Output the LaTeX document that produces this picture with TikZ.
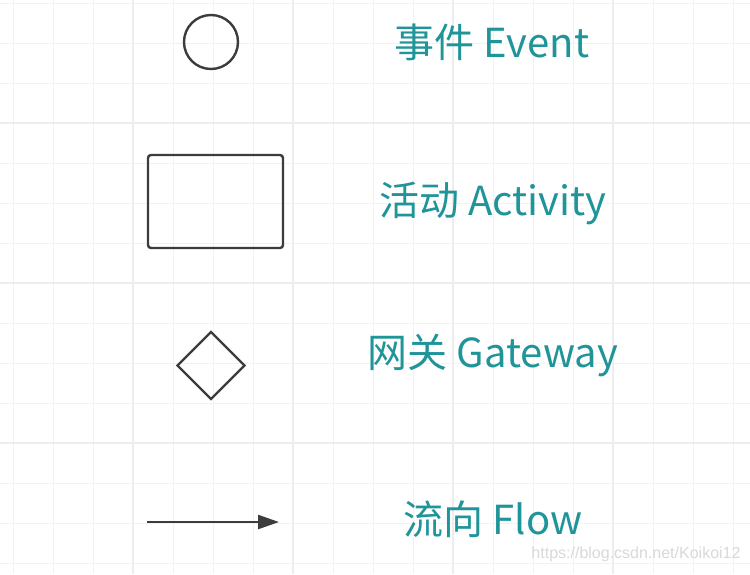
\documentclass[tikz,border=0pt]{standalone}
\usepackage{fontspec}
\setmainfont{Noto Sans CJK SC}
\newfontfamily\markfont{Liberation Sans}
\usetikzlibrary{shapes.geometric,
                arrows.meta,
                positioning}
\definecolor{labelteal}{RGB}{31,148,153}
\definecolor{shapegray}{RGB}{60,60,60}

\begin{document}
\begin{tikzpicture}[x=1pt,y=-1pt,
   minorline/.style={draw=black!5,line width=1pt},
   majorline/.style={draw=black!7,line width=1.5pt},
   symbol/.style={draw=shapegray,line width=2.4pt,inner sep=0pt},
   legend/.style={text=labelteal,font=\fontsize{40}{42}\selectfont,anchor=center},
   watermark/.style={text=black!15,font=\markfont\fontsize{16}{17}\selectfont}]
 \useasboundingbox (0,0) rectangle (750,574);
 \fill[white] (0,0) rectangle (750,574);
 % grid
 \foreach \gx in {13,53,...,733} \draw[minorline] (\gx,0) -- (\gx,574);
 \foreach \gy in {3,43,...,563} \draw[minorline] (0,\gy) -- (750,\gy);
 \foreach \gx in {133,293,453,613} \draw[majorline] (\gx,0) -- (\gx,574);
 \foreach \gy in {123,283,443} \draw[majorline] (0,\gy) -- (750,\gy);
 % symbols
 \node[symbol,circle,minimum size=54pt] (event) at (211,42) {};
 \node[symbol,rounded corners=3pt,minimum width=135pt,minimum height=93pt] (activity) at (215.5,201.5) {};
 \node[symbol,diamond,aspect=1,minimum size=68pt] (gateway) at (211,365.5) {};
 \coordinate (flow-start) at (147,522);
 \coordinate (flow-end) at (279,522);
 \draw[shapegray,line width=2.4pt,-{Triangle[length=21pt,width=14pt]}] (flow-start) -- (flow-end);
 % labels
 \node[legend] (event-label) at (492,42) {事件 Event};
 \node[legend] (activity-label) at (493,203) {活动 Activity};
 \node[legend] (gateway-label) at (493,355) {网关 Gateway};
 \node[legend] (flow-label) at (493,519) {流向 Flow};
 \node[watermark] (csdn) at (636,554) {https://blog.csdn.net/Koikoi12};
\end{tikzpicture}
\end{document}
